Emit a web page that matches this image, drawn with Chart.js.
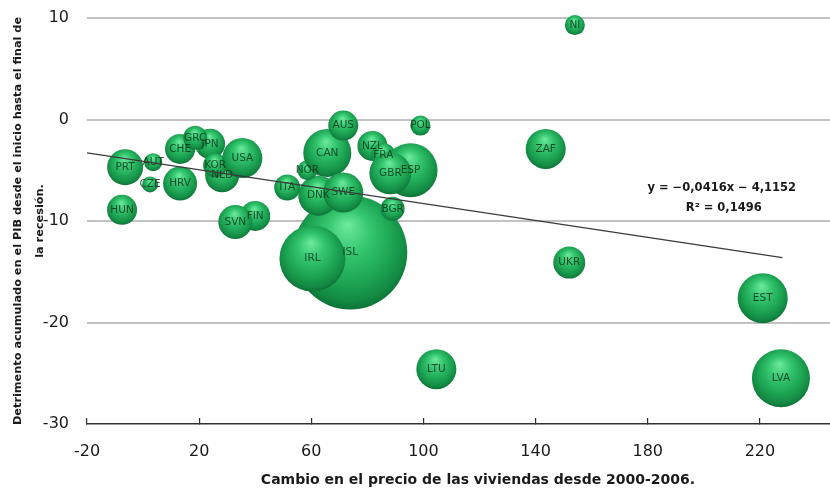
<!DOCTYPE html>
<html>
<head>
<meta charset="utf-8">
<script src="https://cdn.jsdelivr.net/npm/chart.js@4"></script>
<style>
html,body{margin:0;padding:0;background:#fff;}
#wrap{width:830px;height:494px;}
</style>
</head>
<body>
<div id="wrap"><canvas id="c" width="830" height="494"></canvas></div>
<script>
// ---- data (drawing order: back to front) ----
const countries   = ['ISL','DNK','IRL','ITA','NOR','CAN','AUS','SWE','NZL','FRA','ESP','GBR','BGR','POL','PRT','AUT','CZE','HRV','HUN','CHE','JPN','GRC','NLD','KOR','USA','FIN','SVN','NI','ZAF','UKR','LTU','EST','LVA'];
const priceChange = [73.9, 62.5, 60.4, 51.4, 58.6, 65.7, 71.4, 71.4, 81.8, 85.7, 95.4, 88.2, 89.0, 98.9, -6.4, 3.6, 2.5, 13.2, -7.5, 13.2, 23.9, 18.6, 28.2, 25.7, 35.4, 40.0, 32.9, 154.0, 143.6, 152.0, 104.6, 221.0, 227.5];
const gdpLoss     = [-13.1, -7.5, -13.7, -6.7, -5.0, -3.3, -0.6, -7.2, -2.6, -3.5, -5.0, -5.3, -8.8, -0.6, -4.7, -4.2, -6.4, -6.3, -8.9, -2.9, -2.4, -1.8, -5.5, -4.5, -3.8, -9.5, -10.1, 9.3, -2.9, -14.1, -24.6, -17.6, -25.5];
const bubbleSize  = [57, 20, 33, 13, 10, 24, 15, 20, 15, 12, 27, 21, 12, 10, 18, 9, 8, 17, 15, 15, 15, 12, 17, 12, 20, 15, 17, 10, 20, 16, 20, 25, 29];
const trendX      = [-20, 228];
const trendY      = [-3.28, -13.60];
const xTickValues = [-20, 20, 60, 100, 140, 180, 220];
const yTickValues = [-30, -20, -10, 0, 10];
const eqLines     = ['y = \u22120,0416x \u2212 4,1152', 'R\u00B2 = 0,1496'];
const eqPos       = {x: 206.4, y: -7.73};
const xTitle      = 'Cambio en el precio de las viviendas desde 2000-2006.';
const yTitle      = ['Detrimento acumulado en el PIB desde el inicio hasta el final de', 'la recesión.'];

const bubbleData = countries.map((c, i) => ({x: priceChange[i], y: gdpLoss[i], r: bubbleSize[i], label: c}));
const trendData = trendX.map((x, i) => ({x: x, y: trendY[i]}));

const FONT = '"DejaVu Sans", Verdana, sans-serif';

function sphereFill(ctx) {
  const solid = '#1ca352';
  if (ctx.type !== 'data') return solid;
  const chart = ctx.chart;
  const xs = chart.scales.x, ys = chart.scales.y;
  if (!xs || !ys) return solid;
  const raw = ctx.raw;
  const cx = xs.getPixelForValue(raw.x);
  const cy = ys.getPixelForValue(raw.y);
  const r = raw.r;
  if (!isFinite(cx) || !isFinite(cy) || !isFinite(r) || r <= 0) return solid;
  const g = chart.ctx.createRadialGradient(cx - 0.05 * r, cy - 0.5 * r, 0, cx, cy - 0.1 * r, 1.1 * r);
  g.addColorStop(0, '#6eea9e');
  g.addColorStop(0.35, '#34c66f');
  g.addColorStop(0.7, '#1ca352');
  g.addColorStop(0.9, '#138a43');
  g.addColorStop(1, '#0d7237');
  return g;
}

const labelPlugin = {
  id: 'bubbleLabels',
  afterDatasetDraw(chart, args) {
    if (args.index !== 1) return;
    const c = chart.ctx;
    const meta = chart.getDatasetMeta(1);
    c.save();
    c.font = '10.5px ' + FONT;
    c.textAlign = 'center';
    c.textBaseline = 'middle';
    c.fillStyle = 'rgba(10,40,20,0.78)';
    meta.data.forEach((el, i) => {
      c.fillText(bubbleData[i].label, el.x, el.y);
    });
    c.restore();
  },
  afterDraw(chart) {
    const c = chart.ctx;
    const xs = chart.scales.x, ys = chart.scales.y;
    c.save();
    c.font = 'bold 11.5px ' + FONT;
    c.textAlign = 'center';
    c.textBaseline = 'middle';
    c.fillStyle = '#1a1a1a';
    const px = xs.getPixelForValue(eqPos.x);
    const py = ys.getPixelForValue(eqPos.y);
    c.fillText(eqLines[0], px, py - 10);
    c.fillText(eqLines[1], px + 2, py + 10);
    c.restore();
  }
};

new Chart(document.getElementById('c'), {
  data: {
    datasets: [
      {
        type: 'line',
        data: trendData,
        borderColor: '#3a3a3a',
        borderWidth: 1.2,
        pointRadius: 0,
        fill: false,
        order: 0
      },
      {
        type: 'bubble',
        data: bubbleData,
        backgroundColor: sphereFill,
        borderWidth: 0,
        clip: false,
        order: 1
      }
    ]
  },
  options: {
    responsive: false,
    animation: false,
    events: [],
    layout: {autoPadding: false, padding: {top: 18, right: 0, left: 0, bottom: 0}},
    plugins: {legend: {display: false}, tooltip: {enabled: false}},
    scales: {
      x: {
        type: 'linear',
        min: -20,
        max: 245,
        afterBuildTicks: s => { s.ticks = xTickValues.map(v => ({value: v})); },
        afterFit: s => { s.height = 70; },
        grid: {display: true, drawOnChartArea: false, drawTicks: true, tickLength: -6, color: '#333', lineWidth: 1.2},
        border: {display: true, color: '#333', width: 1.5},
        ticks: {font: {family: FONT, size: 16}, color: '#1a1a1a', padding: 24, maxRotation: 0},
        title: {display: true, text: '        ' + xTitle, font: {family: FONT, size: 14, weight: 'bold'}, color: '#1a1a1a', padding: {top: 0, bottom: 5}}
      },
      y: {
        type: 'linear',
        min: -30,
        max: 10,
        afterBuildTicks: s => { s.ticks = yTickValues.map(v => ({value: v})); },
        afterFit: s => { s.width = 87; },
        grid: {drawTicks: true, tickLength: 18, tickColor: 'rgba(0,0,0,0)', color: c => (c.tick && c.tick.value === -30 ? 'rgba(0,0,0,0)' : '#c2c2c2'), lineWidth: 2},
        border: {display: false},
        ticks: {font: {family: FONT, size: 16}, color: '#1a1a1a', padding: 0},
        title: {display: true, text: yTitle, font: {family: FONT, size: 11.3, weight: 'bold', lineHeight: 1.95}, color: '#1a1a1a', padding: {top: 7, bottom: 0}}
      }
    }
  },
  plugins: [labelPlugin]
});
</script>
</body>
</html>
